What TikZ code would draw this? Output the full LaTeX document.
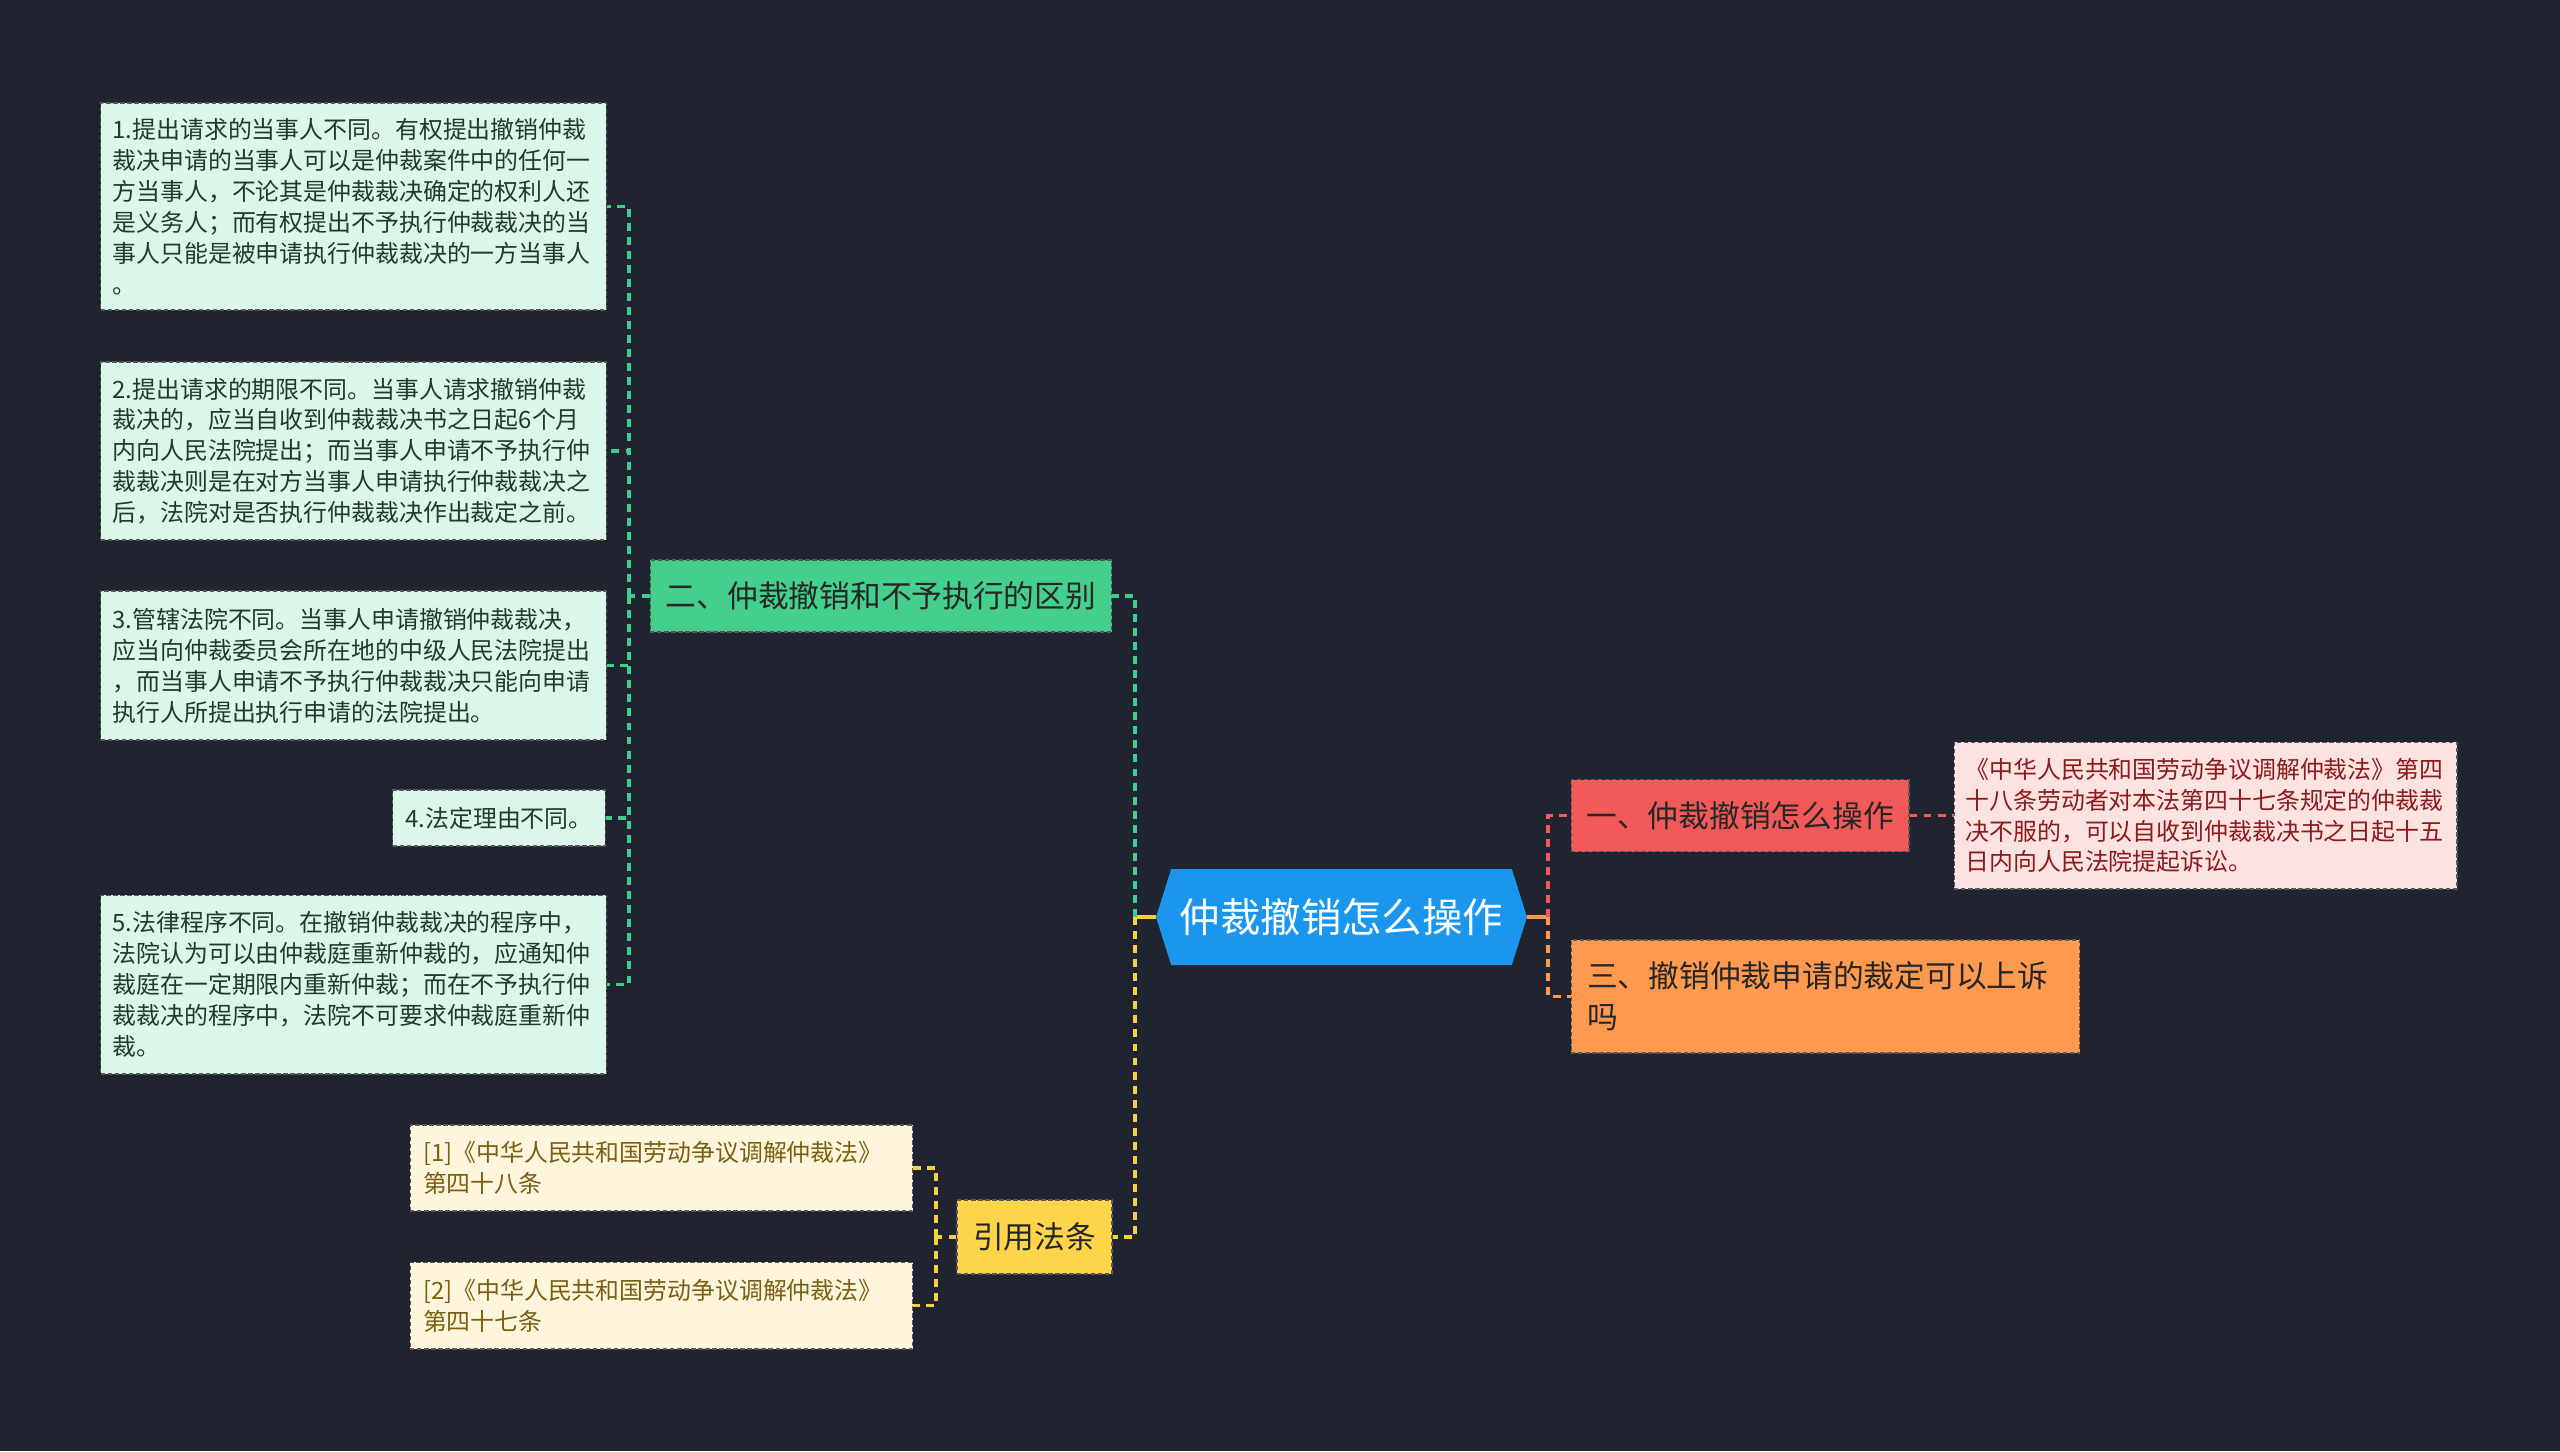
\documentclass[tikz,border=0pt]{standalone}
\usepackage{fontspec}
\setmainfont{Noto Sans CJK SC}
\usetikzlibrary{shapes.symbols}
\definecolor{bgdark}{HTML}{202430}
\definecolor{rootblue}{HTML}{1A96EE}
\definecolor{grnmain}{HTML}{44CF8C}
\definecolor{grnleaf}{HTML}{DDF6EA}
\definecolor{grntext}{HTML}{1E3B2C}
\definecolor{grnline}{HTML}{3ECF8E}
\definecolor{redmain}{HTML}{F25A5A}
\definecolor{redline}{HTML}{F05A5A}
\definecolor{pinkleaf}{HTML}{FDE2E2}
\definecolor{pinktext}{HTML}{8B1A1A}
\definecolor{orgmain}{HTML}{FD9A50}
\definecolor{ylwmain}{HTML}{FDD54A}
\definecolor{ylwline}{HTML}{F5D142}
\definecolor{ylwleaf}{HTML}{FEF6DC}
\definecolor{ylwtext}{HTML}{7A5E12}
\definecolor{maintext}{HTML}{262626}

\begin{document}
\begin{tikzpicture}[x=0.02cm, y=-0.02cm,
    box/.style={draw=black!65, dash pattern=on 2.5pt off 1.5pt, line width=0.6pt, inner ysep=0pt},
    leaf/.style={box, font=\fontsize{13.6}{17.6}\selectfont, align=left, text width=9.64cm, inner xsep=0.24cm},
    gleaf/.style={leaf, fill=grnleaf, text=grntext},
    yleaf/.style={leaf, fill=ylwleaf, text=ylwtext, text width=9.54cm, inner xsep=0.26cm},
    pleaf/.style={leaf, fill=pinkleaf, text=pinktext, text width=9.6cm, inner xsep=0.23cm},
    topic/.style={box, font=\fontsize{17.5}{23.3}\selectfont, text=maintext, inner xsep=0pt, minimum height=1.44cm},
    root/.style={signal, signal to=east and west, signal pointer angle=145, fill=rootblue, text=white,
        font=\fontsize{23}{28}\selectfont, minimum width=7.42cm, minimum height=1.92cm, inner sep=0pt},
    link/.style={line width=1.9pt, dash pattern=on 4.5pt off 3.5pt},
    stub/.style={line width=1.9pt},
]
    \fill[bgdark] (0,0) rectangle (2560,1451);

    \node[root] (root) at (1341.5,917) {仲裁撤销怎么操作};

    \node[topic, fill=grnmain, minimum width=9.24cm] (diff) at (881,596) {二、仲裁撤销和不予执行的区别};
    \node[topic, fill=redmain, minimum width=6.76cm] (howto) at (1740,815.5) {一、仲裁撤销怎么操作};
    \node[topic, fill=orgmain, align=left, text width=9.54cm, inner xsep=0.32cm, minimum height=2.26cm] (appeal) at (1825.5,996.5)
        {三、撤销仲裁申请的裁定可以上诉\\吗};
    \node[topic, fill=ylwmain, minimum width=3.1cm, minimum height=1.48cm] (cite) at (1034.5,1237) {引用法条};

    \node[gleaf, minimum height=4.14cm] (diff1) at (353.5,206.5)
        {1.提出请求的当事人不同。有权提出撤销仲裁\\
        裁决申请的当事人可以是仲裁案件中的任何一\\
        方当事人，不论其是仲裁裁决确定的权利人还\\
        是义务人；而有权提出不予执行仲裁裁决的当\\
        事人只能是被申请执行仲裁裁决的一方当事人\\
        。};
    \node[gleaf, minimum height=3.56cm] (diff2) at (353.5,451)
        {2.提出请求的期限不同。当事人请求撤销仲裁\\
        裁决的，应当自收到仲裁裁决书之日起6个月\\
        内向人民法院提出；而当事人申请不予执行仲\\
        裁裁决则是在对方当事人申请执行仲裁裁决之\\
        后，法院对是否执行仲裁裁决作出裁定之前。};
    \node[gleaf, minimum height=2.98cm] (diff3) at (353.5,665.5)
        {3.管辖法院不同。当事人申请撤销仲裁裁决，\\
        应当向仲裁委员会所在地的中级人民法院提出\\
        ，而当事人申请不予执行仲裁裁决只能向申请\\
        执行人所提出执行申请的法院提出。};
    \node[box, fill=grnleaf, text=grntext, font=\fontsize{13.6}{17.6}\selectfont, inner xsep=0pt,
        minimum width=4.26cm, minimum height=1.12cm, anchor=east] (diff4) at (606,818) {4.法定理由不同。};
    \node[gleaf, minimum height=3.58cm] (diff5) at (353.5,984.5)
        {5.法律程序不同。在撤销仲裁裁决的程序中，\\
        法院认为可以由仲裁庭重新仲裁的，应通知仲\\
        裁庭在一定期限内重新仲裁；而在不予执行仲\\
        裁裁决的程序中，法院不可要求仲裁庭重新仲\\
        裁。};

    \node[yleaf, minimum height=1.72cm] (cite1) at (661.5,1168)
        {[1]《中华人民共和国劳动争议调解仲裁法》\\第四十八条};
    \node[yleaf, minimum height=1.74cm] (cite2) at (661.5,1305.5)
        {[2]《中华人民共和国劳动争议调解仲裁法》\\第四十七条};

    \node[pleaf, minimum height=2.94cm] (howto1) at (2205.5,815.5)
        {《中华人民共和国劳动争议调解仲裁法》第四\\
        十八条劳动者对本法第四十七条规定的仲裁裁\\
        决不服的，可以自收到仲裁裁决书之日起十五\\
        日内向人民法院提起诉讼。};

    \coordinate (lj) at (1135,917);
    \coordinate (rj) at (1548,917);
    \coordinate (dj) at (629,596);
    \coordinate (cj) at (936,1237);

    \draw[stub, ylwline] (root.west) -- (lj);
    \draw[link, grnline] (lj) |- (diff.east);
    \draw[link, ylwline] (lj) |- (cite.east);
    \draw[stub, orgmain] (root.east) -- (rj);
    \draw[link, redline] (rj) |- (howto.west);
    \draw[link, orgmain] (rj) |- (appeal.west);
    \draw[link, redline] (howto.east) -- (howto1.west);

    \draw[link, grnline] (diff.west) -- (dj);
    \foreach \i in {1,...,5}
        \draw[link, grnline] (dj) |- (diff\i.east);
    \draw[link, ylwline] (cite.west) -- (cj);
    \foreach \i in {1,2}
        \draw[link, ylwline] (cj) |- (cite\i.east);
\end{tikzpicture}
\end{document}
